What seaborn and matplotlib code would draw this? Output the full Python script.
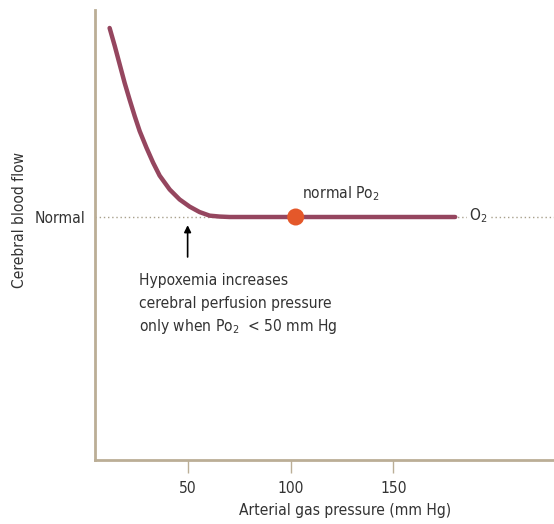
import matplotlib
matplotlib.use("Agg")
import matplotlib.pyplot as plt
import seaborn as sns
import pandas as pd

# curve (x in mm Hg, y in arbitrary flow units)
flow_x = [12.1, 14.6, 17.0, 19.4, 21.8, 24.3, 26.7, 30.0, 33.2, 36.4, 41.3, 46.1,
          51.0, 55.8, 60.7, 65.5, 70.4, 180]
flow_y = [96.0, 92.0, 87.9, 83.8, 80.1, 76.4, 73.1, 69.4, 66.1, 63.2, 60.1, 57.9,
          56.3, 55.1, 54.3, 54.1, 54.0, 54.0]
normal_flow = 54
normal_po2 = 102.5
x_ticks = [50, 100, 150]
y_ticks = [normal_flow]
y_tick_labels = ["Normal"]
note_lines = ["Hypoxemia increases", "cerebral perfusion pressure",
              "only when Pᴏ$\\mathregular{_2}$  < 50 mm Hg"]

sns.set_style("white")
plt.rcParams["font.family"] = ["DejaVu Sans"]
plt.rcParams["font.stretch"] = "condensed"
plt.rcParams["mathtext.fontset"] = "custom"
plt.rcParams["mathtext.rm"] = "DejaVu Sans:stretch=condensed"

spine_col = "#BBAE96"
text_col = "#333333"
fs = 11.2

fig = plt.figure(figsize=(5.54, 5.24), dpi=100)
ax = fig.add_axes([95 / 554, 64 / 524, 459 / 554, 450 / 524])

df = pd.DataFrame({"x": flow_x, "y": flow_y})
ax.plot([5, 228], [normal_flow, normal_flow], color="#A8A08C", lw=1, ls=(0, (1, 2)), zorder=1)
sns.lineplot(data=df, x="x", y="y", ax=ax, color="#95465F", lw=3.2, sort=True, zorder=3)
sns.scatterplot(x=[normal_po2], y=[normal_flow], ax=ax, color="#E4582A", s=150,
                edgecolor="none", zorder=4)

ax.text(105.5, 57.2, "normal Pᴏ$\\mathregular{_2}$", fontsize=fs, color=text_col,
        ha="left", va="bottom")
ax.text(186.5, normal_flow + 0.3, "O$\\mathregular{_2}$", fontsize=fs, color=text_col,
        ha="left", va="center",
        bbox=dict(facecolor="white", edgecolor="none", pad=1.5), zorder=2)

ax.annotate("", xy=(50, 52.8), xytext=(50, 44.5),
            arrowprops=dict(arrowstyle="-|>", color="black", lw=1.2, mutation_scale=10))
for i, line in enumerate(note_lines):
    ax.text(26.2, 38.9 - 5.1 * i, line, fontsize=fs, color=text_col, ha="left", va="baseline")

ax.set_xlim(5, 228)
ax.set_ylim(0, 100)
ax.set_xticks(x_ticks)
ax.set_yticks(y_ticks)
ax.set_yticklabels(y_tick_labels)
ax.tick_params(axis="x", length=9, width=1, color=spine_col, labelcolor=text_col,
               labelsize=fs, pad=6, bottom=True)
ax.tick_params(axis="y", length=0, labelcolor=text_col, labelsize=fs, pad=7)

for side in ["top", "right"]:
    ax.spines[side].set_visible(False)
for side in ["left", "bottom"]:
    ax.spines[side].set_color(spine_col)
    ax.spines[side].set_linewidth(2)

ax.set_xlabel("Arterial gas pressure (mm Hg)", fontsize=fs, color=text_col)
ax.set_ylabel("Cerebral blood flow", fontsize=fs, color=text_col)
ax.xaxis.set_label_coords(0.545, -0.095)
ax.yaxis.set_label_coords(-0.148, 0.533)

fig.savefig("out.png", dpi=100)
